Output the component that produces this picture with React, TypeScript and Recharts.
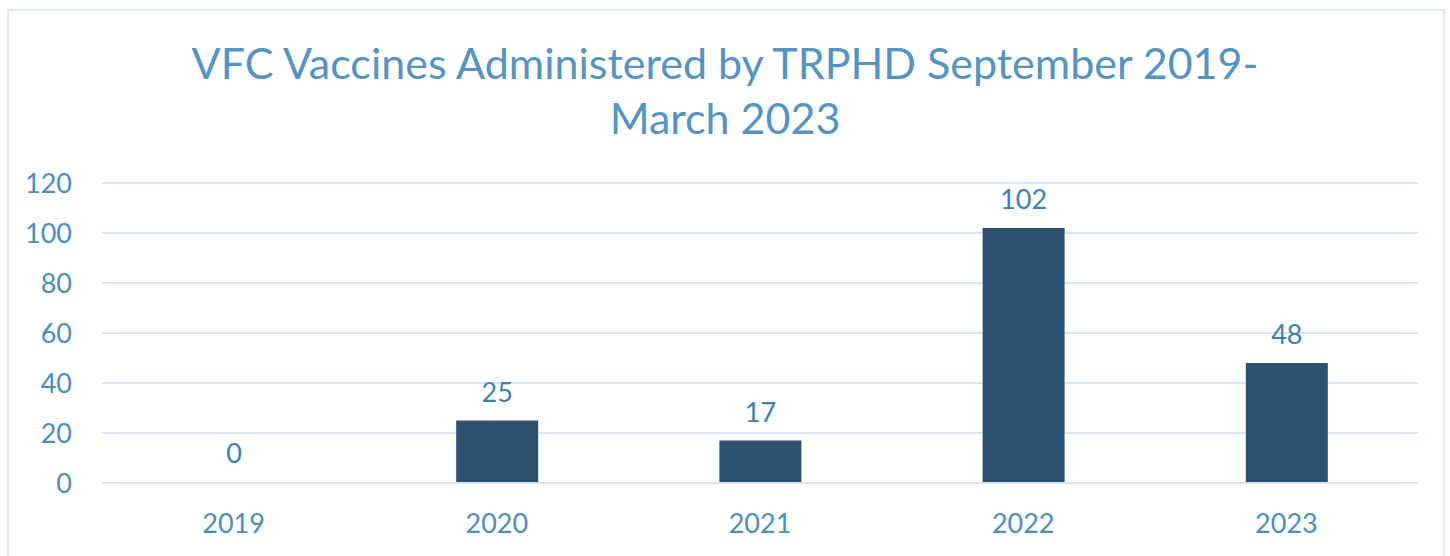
import React from "react";
import { BarChart, Bar, XAxis, YAxis, CartesianGrid, LabelList, Rectangle } from "recharts";

const years = ["2019", "2020", "2021", "2022", "2023"];
const vaccines = [0, 25, 17, 102, 48];
const yTicks = [0, 20, 40, 60, 80, 100, 120];
const titleLines = ["VFC Vaccines Administered by TRPHD September 2019-", "March 2023"];

const data = years.map((y, i) => ({ year: y, value: vaccines[i] }));

const FONT = "Lato, 'Open Sans', sans-serif";

const BarShape = (props: any) => {
  if (!props.payload || props.payload.value === 0) return <g />;
  return <Rectangle {...props} />;
};

export default function App() {
  return (
    <div style={{ position: "absolute", left: 0, top: 0, width: 1450, height: 556, overflow: "hidden", background: "#fff" }}>
      <div style={{ position: "absolute", left: 7, top: 9, width: 1438, height: 600, border: "2px solid #dde8f3", boxSizing: "border-box" }} />
      <div style={{ position: "absolute", left: 0, top: 35, width: 1450, textAlign: "center", fontFamily: FONT, fontSize: 43, lineHeight: "55px", color: "#5593c3" }}>
        {titleLines.map((t) => (
          <div key={t}>{t}</div>
        ))}
      </div>
      <div style={{ position: "absolute", left: 0, top: 0 }}>
        <BarChart width={1450} height={556} data={data} margin={{ top: 183, right: 32, bottom: 0, left: 0 }}>
          <CartesianGrid vertical={false} stroke="#d9e6f2" strokeWidth={2} />
          <XAxis
            dataKey="year"
            height={73}
            axisLine={{ stroke: "#d9e6f2", strokeWidth: 2 }}
            tickLine={false}
            tickSize={0}
            tickMargin={31}
            tick={{ fill: "#4d8dbd", fontSize: 27, fontFamily: FONT }}
          />
          <YAxis
            domain={[0, 120]}
            ticks={yTicks}
            width={102}
            axisLine={false}
            tickLine={false}
            tickSize={0}
            tickMargin={30}
            tick={{ fill: "#4d8dbd", fontSize: 27, fontFamily: FONT }}
          />
          <Bar dataKey="value" fill="#2c5170" barSize={82} minPointSize={1} shape={BarShape} isAnimationActive={false}>
            <LabelList dataKey="value" position="top" offset={19} fill="#3f80b1" fontSize={27} fontFamily={FONT} />
          </Bar>
        </BarChart>
      </div>
    </div>
  );
}
